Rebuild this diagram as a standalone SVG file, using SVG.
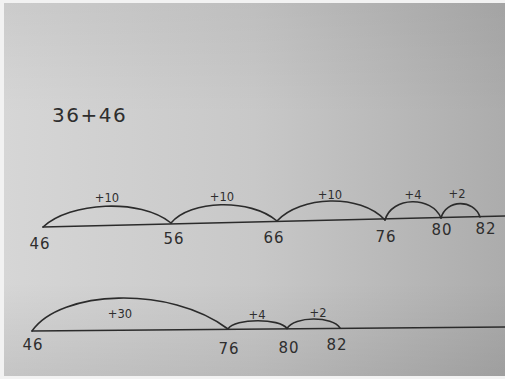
<svg xmlns="http://www.w3.org/2000/svg" width="505" height="379" viewBox="0 0 505 379">
<defs>
<linearGradient id="paper" x1="0" y1="0" x2="1" y2="0">
<stop offset="0" stop-color="#d6d6d6"/>
<stop offset="0.5" stop-color="#c8c8c8"/>
<stop offset="1" stop-color="#acacac"/>
</linearGradient>
<linearGradient id="shade" x1="0" y1="0" x2="0" y2="1">
<stop offset="0" stop-color="#000" stop-opacity="0.05"/>
<stop offset="0.3" stop-color="#000" stop-opacity="0"/>
<stop offset="0.75" stop-color="#000" stop-opacity="0"/>
<stop offset="1" stop-color="#000" stop-opacity="0.08"/>
</linearGradient>
<style>
.ink{fill:none;stroke:#2b2b2b;stroke-width:1.6;stroke-linecap:round}
.lbl{font-family:"DejaVu Sans",sans-serif;font-size:11.5px;fill:#2e2e2e;text-anchor:middle}
.num{font-family:"DejaVu Sans",sans-serif;font-size:15px;fill:#2e2e2e;text-anchor:middle;letter-spacing:1px}
.sum{font-family:"DejaVu Sans",sans-serif;font-size:20px;fill:#2e2e2e;letter-spacing:1.5px}
</style>
</defs>
<rect width="505" height="379" fill="#f2f2f2"/>
<rect x="4" y="3" width="501" height="373" fill="url(#paper)"/>
<rect x="4" y="3" width="501" height="373" fill="url(#shade)"/>
<g id="sum"><text class="sum" x="52" y="122">36+46</text></g>
<g id="connectors">
<path class="ink" d="M43,227 L505,216"/>
<path class="ink" d="M43,227 C70,202 140,198 171,223"/>
<path class="ink" d="M171,223 C190,200 250,198 277,221"/>
<path class="ink" d="M277,221 C300,196 360,193 385,220"/>
<path class="ink" d="M385,220 C392,196 432,196 441,218"/>
<path class="ink" d="M441,218 C446,199 474,199 480,217"/>
<path class="ink" d="M32,331 L505,327"/>
<path class="ink" d="M32,331 C60,290 170,285 228,329"/>
<path class="ink" d="M228,329 C235,318 280,318 287,328.5"/>
<path class="ink" d="M287,328.5 C294,316 333,316 340,328"/>
</g>
<g id="line1">
<text class="lbl" x="107" y="202">+10</text>
<text class="lbl" x="222" y="201">+10</text>
<text class="lbl" x="330" y="199">+10</text>
<text class="lbl" x="413" y="199">+4</text>
<text class="lbl" x="457" y="198">+2</text>
<text class="num" x="40" y="249">46</text>
<text class="num" x="174" y="244">56</text>
<text class="num" x="274" y="243">66</text>
<text class="num" x="386" y="242">76</text>
<text class="num" x="442" y="235">80</text>
<text class="num" x="486" y="234">82</text>
</g>
<g id="line2">
<text class="lbl" x="120" y="318">+30</text>
<text class="lbl" x="257" y="319">+4</text>
<text class="lbl" x="318" y="317">+2</text>
<text class="num" x="33" y="350">46</text>
<text class="num" x="229" y="354">76</text>
<text class="num" x="289" y="353">80</text>
<text class="num" x="337" y="350">82</text>
</g>
</svg>
